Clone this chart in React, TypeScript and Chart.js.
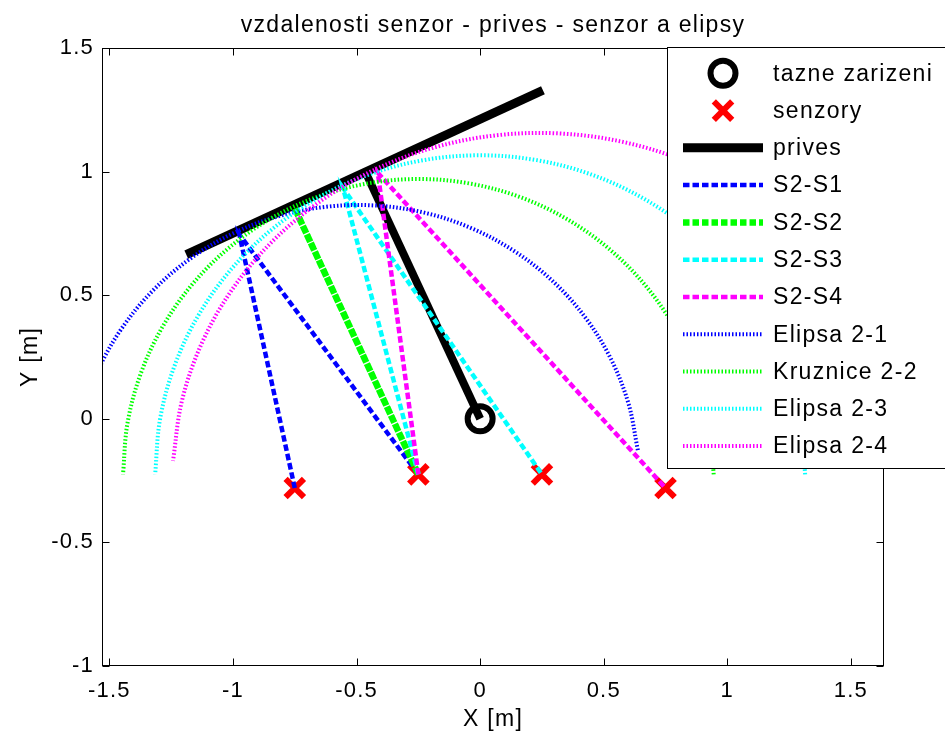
import React, { useEffect, useRef } from 'react';
import { Chart, registerables } from 'chart.js';

Chart.register(...registerables);

const FONT = '"Liberation Sans", Arial, Helvetica, sans-serif';

// ---- texts ----
const chartTitle = 'vzdalenosti senzor - prives - senzor a elipsy';
const xAxisTitle = 'X [m]';
const yAxisTitle = 'Y [m]';

// ---- ticks ----
const xTickValues = [-1.5, -1, -0.5, 0, 0.5, 1, 1.5];
const xTickLabels = ['-1.5', '-1', '-0.5', '0', '0.5', '1', '1.5'];
const yTickValues = [-1, -0.5, 0, 0.5, 1, 1.5];
const yTickLabels = ['-1', '-0.5', '0', '0.5', '1', '1.5'];
const xRange = [-1.53, 1.634];
const yRange = [-1, 1.5];

// ---- towing device (tazne zarizeni) ----
const hitchX = [0];
const hitchY = [0];

// ---- sensors (senzory) ----
const sensorX = [-0.75, -0.25, 0.25, 0.75];
const sensorY = [-0.28, -0.225, -0.225, -0.28];

// ---- trailer (prives) ----
const crossbarX = [-1.189, 0.254];
const crossbarY = [0.664, 1.329];
const drawbarX = [0, -0.46];
const drawbarY = [0, 0.99];

// ---- sensor - trailer - sensor paths ----
const s21X = [-0.75, -0.974, -0.25];
const s21Y = [-0.28, 0.745, -0.225];
const s22X = [-0.25, -0.751, -0.25];
const s22Y = [-0.225, 0.853, -0.225];
const s23X = [-0.25, -0.555, 0.25];
const s23Y = [-0.225, 0.934, -0.225];
const s24X = [-0.25, -0.414, 0.75];
const s24Y = [-0.225, 0.995, -0.28];

// ---- Elipsa 2-1 ----
const e21X = [0.6381, 0.5995, 0.5276, 0.4243, 0.293, 0.1377, -0.0371, -0.226, -0.4231, -0.6226, -0.8183, -1.0044, -1.1753, -1.3255, -1.4506, -1.5469, -1.6114];
const e21Y = [-0.1269, 0.0639, 0.2452, 0.4115, 0.5574, 0.6787, 0.7718, 0.8339, 0.8627, 0.8578, 0.8191, 0.7479, 0.6462, 0.5173, 0.365, 0.1939, 0.0092];

// ---- Kruznice 2-2 ----
const k22X = [0.945, 0.9268, 0.8729, 0.7849, 0.6654, 0.5181, 0.3475, 0.1587, -0.0425, -0.25, -0.4575, -0.6587, -0.8475, -1.0181, -1.1654, -1.2849, -1.3729, -1.4268, -1.445];
const k22Y = [-0.225, -0.0175, 0.1837, 0.3725, 0.5431, 0.6904, 0.8099, 0.8979, 0.9518, 0.97, 0.9518, 0.8979, 0.8099, 0.6904, 0.5431, 0.3725, 0.1837, -0.0175, -0.225];

// ---- Elipsa 2-3 ----
const e23X = [1.315, 1.295, 1.2357, 1.1388, 1.0073, 0.8453, 0.6575, 0.4497, 0.2283, 0, -0.2283, -0.4497, -0.6575, -0.8453, -1.0073, -1.1388, -1.2357, -1.295, -1.315];
const e23Y = [-0.225, -0.0009, 0.2165, 0.4205, 0.6049, 0.7639, 0.893, 0.9882, 1.0464, 1.066, 1.0464, 0.9882, 0.893, 0.7639, 0.6049, 0.4205, 0.2165, -0.0009, -0.225];

// ---- Elipsa 2-4 ----
const e24X = [1.7427, 1.7334, 1.6792, 1.5814, 1.4432, 1.2688, 1.0634, 0.8332, 0.5853, 0.3274, 0.0671, -0.1878, -0.4294, -0.6502, -0.8436, -1.004, -1.1262, -1.2066, -1.2427];
const e24Y = [-0.3347, -0.0893, 0.1513, 0.3796, 0.5886, 0.7721, 0.9244, 1.0411, 1.1183, 1.154, 1.1469, 1.0973, 1.0066, 0.8777, 0.7146, 0.522, 0.3057, 0.0727, -0.1703];

const pts = (xs: number[], ys: number[]) => xs.map((x, i) => ({ x, y: ys[i] }));

const DASH = [6.5, 3];
const DOT = [1.5, 2];

function lineDs(label: string, xs: number[], ys: number[], color: string, width: number, dash: number[], order: number, tension = 0, inLegend = true) {
  return {
    label,
    data: pts(xs, ys),
    showLine: true,
    borderColor: color,
    backgroundColor: color,
    borderWidth: width,
    borderDash: dash,
    pointRadius: 0,
    pointHoverRadius: 0,
    tension,
    clip: 0,
    order,
    inLegend,
  } as any;
}

const matlabPlugin = {
  id: 'matlabLook',
  beforeDraw(chart: any) {
    const ctx = chart.ctx;
    ctx.save();
    ctx.fillStyle = '#ffffff';
    ctx.fillRect(0, 0, chart.width, chart.height);
    ctx.restore();
    (ctx as any).letterSpacing = '1.2px';
  },
  afterDatasetsDraw(chart: any) {
    const ctx = chart.ctx;
    const { left, right, top, bottom } = chart.chartArea;
    const L = Math.round(left) + 0.5;
    const R = Math.round(right) - 0.5;
    const T = Math.round(top) + 0.5;
    const B = Math.round(bottom) - 0.5;
    const tl = 7;
    ctx.save();
    ctx.strokeStyle = '#000';
    ctx.lineWidth = 1;
    ctx.setLineDash([]);
    ctx.strokeRect(L, T, R - L, B - T);
    ctx.beginPath();
    xTickValues.forEach((v) => {
      const px = Math.round(chart.scales.x.getPixelForValue(v)) + 0.5;
      ctx.moveTo(px, B); ctx.lineTo(px, B - tl);
      ctx.moveTo(px, T); ctx.lineTo(px, T + tl);
    });
    yTickValues.forEach((v) => {
      const py = Math.round(chart.scales.y.getPixelForValue(v)) + 0.5;
      ctx.moveTo(L, py); ctx.lineTo(L + tl, py);
      ctx.moveTo(R, py); ctx.lineTo(R - tl, py);
    });
    ctx.stroke();
    ctx.restore();
  },
  afterDraw(chart: any) {
    const ctx = chart.ctx;
    const { left, right, top, bottom } = chart.chartArea;
    ctx.save();
    (ctx as any).letterSpacing = '1.3px';
    ctx.fillStyle = '#000';
    // title
    ctx.font = `23px ${FONT}`;
    ctx.textAlign = 'center';
    ctx.textBaseline = 'alphabetic';
    ctx.fillText(chartTitle, (left + right) / 2, 31.5);
    // axis titles
    ctx.textBaseline = 'middle';
    ctx.fillText(xAxisTitle, (left + right) / 2, 720);
    ctx.save();
    ctx.translate(31, (top + bottom) / 2);
    ctx.rotate(-Math.PI / 2);
    ctx.fillText(yAxisTitle, 0, 0);
    ctx.restore();

    // legend
    const lx = 667.5, ly = 47.5, lb = 468.5;
    ctx.fillStyle = '#fff';
    ctx.fillRect(lx, ly, 960 - lx, lb - ly);
    ctx.strokeStyle = '#000';
    ctx.lineWidth = 1;
    ctx.strokeRect(lx, ly, 960 - lx, lb - ly);
    const items = chart.data.datasets.filter((d: any) => d.inLegend !== false);
    const y0 = 73.3, step = 37.27;
    const s0 = 683, s1 = 763, mx = 723, tx = 773;
    items.forEach((d: any, i: number) => {
      const y = y0 + i * step;
      ctx.save();
      if (!d.showLine) {
        ctx.strokeStyle = d.pointBorderColor;
        ctx.lineWidth = d.pointBorderWidth;
        ctx.setLineDash([]);
        ctx.beginPath();
        if (d.pointStyle === 'circle') {
          ctx.arc(mx, y, d.pointRadius, 0, Math.PI * 2);
        } else {
          const o = d.pointRadius * Math.SQRT1_2;
          ctx.moveTo(mx - o, y - o); ctx.lineTo(mx + o, y + o);
          ctx.moveTo(mx - o, y + o); ctx.lineTo(mx + o, y - o);
        }
        ctx.stroke();
      } else {
        ctx.strokeStyle = d.borderColor;
        ctx.lineWidth = d.borderWidth;
        ctx.setLineDash(d.borderDash || []);
        ctx.beginPath();
        ctx.moveTo(s0, y);
        ctx.lineTo(s1, y);
        ctx.stroke();
      }
      ctx.restore();
      ctx.fillStyle = '#000';
      ctx.font = `23px ${FONT}`;
      ctx.textAlign = 'left';
      ctx.textBaseline = 'middle';
      ctx.fillText(d.label, tx, y + 1);
    });
    ctx.restore();
  },
};

export default function App() {
  const ref = useRef<HTMLCanvasElement>(null);
  useEffect(() => {
    const canvas = ref.current!;
    Chart.defaults.font.family = FONT;
    const chart = new Chart(canvas, {
      type: 'scatter',
      data: {
        datasets: [
          {
            label: 'tazne zarizeni',
            data: pts(hitchX, hitchY),
            showLine: false,
            pointStyle: 'circle',
            pointRadius: 12.5,
            pointHoverRadius: 12.5,
            pointBorderWidth: 6,
            pointBorderColor: '#000000',
            pointBackgroundColor: 'rgba(0,0,0,0)',
            order: 13,
          } as any,
          {
            label: 'senzory',
            data: pts(sensorX, sensorY),
            showLine: false,
            pointStyle: 'crossRot',
            pointRadius: 13,
            pointHoverRadius: 13,
            pointBorderWidth: 6,
            pointBorderColor: '#ff0000',
            pointBackgroundColor: '#ff0000',
            order: 12,
          } as any,
          lineDs('prives', crossbarX, crossbarY, '#000000', 9, [], 11),
          lineDs('_drawbar', drawbarX, drawbarY, '#000000', 8, [], 10, 0, false),
          lineDs('S2-S1', s21X, s21Y, '#0000ff', 4.5, DASH, 9),
          lineDs('S2-S2', s22X, s22Y, '#00ff00', 6.5, DASH, 8),
          lineDs('S2-S3', s23X, s23Y, '#00ffff', 4.5, DASH, 7),
          lineDs('S2-S4', s24X, s24Y, '#ff00ff', 4.5, DASH, 6),
          lineDs('Elipsa 2-1', e21X, e21Y, '#0000ff', 4, DOT, 5, 0.35),
          lineDs('Kruznice 2-2', k22X, k22Y, '#00ff00', 4, DOT, 4, 0.35),
          lineDs('Elipsa 2-3', e23X, e23Y, '#00ffff', 4, DOT, 3, 0.35),
          lineDs('Elipsa 2-4', e24X, e24Y, '#ff00ff', 4, DOT, 2, 0.35),
        ],
      },
      options: {
        responsive: false,
        animation: false,
        devicePixelRatio: 1,
        events: [],
        layout: { padding: { top: 48, right: 61, left: 0, bottom: 0 } },
        plugins: {
          legend: { display: false },
          title: { display: false },
          tooltip: { enabled: false },
        },
        scales: {
          x: {
            type: 'linear',
            min: xRange[0],
            max: xRange[1],
            grid: { display: false, drawTicks: false },
            border: { display: false },
            afterBuildTicks: (s: any) => { s.ticks = xTickValues.map((v) => ({ value: v })); },
            afterFit: (s: any) => { s.height = 70; },
            ticks: {
              color: '#000',
              font: { size: 22, family: FONT },
              padding: 12,
              maxRotation: 0,
              autoSkip: false,
              callback: (v: any) => { const i = xTickValues.indexOf(Number(v)); return i >= 0 ? xTickLabels[i] : ''; },
            },
          },
          y: {
            type: 'linear',
            min: yRange[0],
            max: yRange[1],
            grid: { display: false, drawTicks: false },
            border: { display: false },
            afterBuildTicks: (s: any) => { s.ticks = yTickValues.map((v) => ({ value: v })); },
            afterFit: (s: any) => { s.width = 102; },
            ticks: {
              color: '#000',
              font: { size: 22, family: FONT },
              padding: 8,
              autoSkip: false,
              callback: (v: any) => { const i = yTickValues.indexOf(Number(v)); return i >= 0 ? yTickLabels[i] : ''; },
            },
          },
        },
      } as any,
      plugins: [matlabPlugin],
    });
    return () => chart.destroy();
  }, []);
  return (
    <div style={{ position: 'fixed', left: 0, top: 0, width: 945, height: 736, background: '#fff' }}>
      <canvas ref={ref} width={945} height={736} style={{ display: 'block', width: 945, height: 736 }} />
    </div>
  );
}
